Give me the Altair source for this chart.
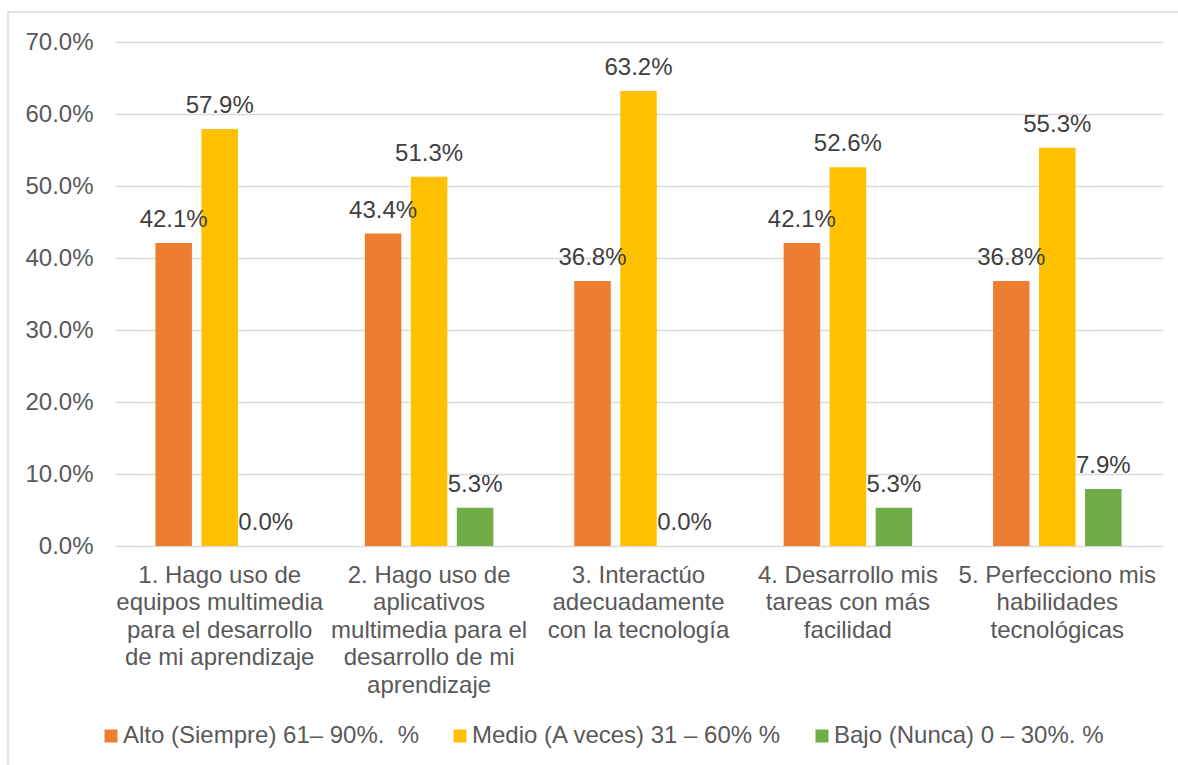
import altair as alt
import pandas as pd

# Survey items (line breaks marked with "|") and response levels
categories = [
    "1. Hago uso de|equipos multimedia|para el desarrollo|de mi aprendizaje",
    "2. Hago uso de|aplicativos|multimedia para el|desarrollo de mi|aprendizaje",
    "3. Interactúo|adecuadamente|con la tecnología",
    "4. Desarrollo mis|tareas con más|facilidad",
    "5. Perfecciono mis|habilidades|tecnológicas",
]
series = [
    "Alto (Siempre) 61– 90%. \u00a0%",
    "Medio (A veces) 31 – 60% %",
    "Bajo (Nunca) 0 – 30%. %",
]
alto = [42.1, 43.4, 36.8, 42.1, 36.8]
medio = [57.9, 51.3, 63.2, 52.6, 55.3]
bajo = [0.0, 5.3, 0.0, 5.3, 7.9]
colors = ["#ED7D31", "#FFC000", "#70AD47"]
y_ticks = [0.0, 0.1, 0.2, 0.3, 0.4, 0.5, 0.6, 0.7]

rows = []
for s, vals in zip(series, [alto, medio, bajo]):
    for c, v in zip(categories, vals):
        rows.append({"category": c, "series": s, "value": v / 100})
df = pd.DataFrame(rows)

FONT = "Liberation Sans"
TEXT = "#595959"
SIZE = 24

x_enc = alt.X(
    "category:N",
    sort=categories,
    scale=alt.Scale(paddingInner=0, paddingOuter=0),
    axis=alt.Axis(
        title=None,
        labelExpr="split(datum.label, '|')",
        labelAngle=0,
        labelFontSize=SIZE,
        labelColor=TEXT,
        labelLineHeight=27.6,
        labelPadding=17,
        labelLimit=400,
        labelOverlap=False,
        domain=False,
        ticks=False,
    ),
)
xoff_enc = alt.XOffset(
    "series:N", sort=series, scale=alt.Scale(paddingInner=0.2065, paddingOuter=0.879)
)
y_enc = alt.Y(
    "value:Q",
    scale=alt.Scale(domain=[0, 0.7], nice=False),
    axis=alt.Axis(
        title=None,
        format=".1%",
        values=y_ticks,
        grid=True,
        gridColor="#D9D9D9",
        gridWidth=1.3,
        domain=False,
        ticks=False,
        labelFontSize=SIZE,
        labelColor=TEXT,
        labelPadding=22,
    ),
)

base = alt.Chart(df)

bars = base.mark_bar().encode(
    x=x_enc,
    xOffset=xoff_enc,
    y=y_enc,
    color=alt.Color(
        "series:N",
        sort=series,
        scale=alt.Scale(domain=series, range=colors),
        legend=alt.Legend(
            orient="none",
            legendX=-16,
            legendY=682,
            direction="horizontal",
            title=None,
            symbolType="square",
            symbolSize=169,
            symbolStrokeWidth=0,
            labelFontSize=SIZE,
            labelColor=TEXT,
            labelOffset=0,
            labelLimit=600,
            columnPadding=28,
            padding=0,
        ),
    ),
)

labels = base.mark_text(
    dy=-16, baseline="alphabetic", fontSize=SIZE, color="#404040"
).encode(
    x=x_enc,
    xOffset=xoff_enc,
    y=y_enc,
    text=alt.Text("value:Q", format=".1%"),
)

# outer chart-area frame
frame = alt.Chart(pd.DataFrame({"f": [0]})).mark_rect(
    fill="transparent", stroke="#D9D9D9", strokeWidth=1.3
).encode(
    x=alt.value(-107), x2=alt.value(1200), y=alt.value(-30), y2=alt.value(800)
)

chart = (
    alt.layer(frame, bars, labels)
    .properties(
        width=1047,
        height=504,
        autosize=alt.AutoSizeParams(type="none"),
        padding={"left": 115, "top": 42, "right": 16, "bottom": 219},
        background="white",
    )
    .configure(font=FONT)
    .configure_view(strokeWidth=0)
)

chart.save("out.html", embed_options={"renderer": "svg", "actions": False})
